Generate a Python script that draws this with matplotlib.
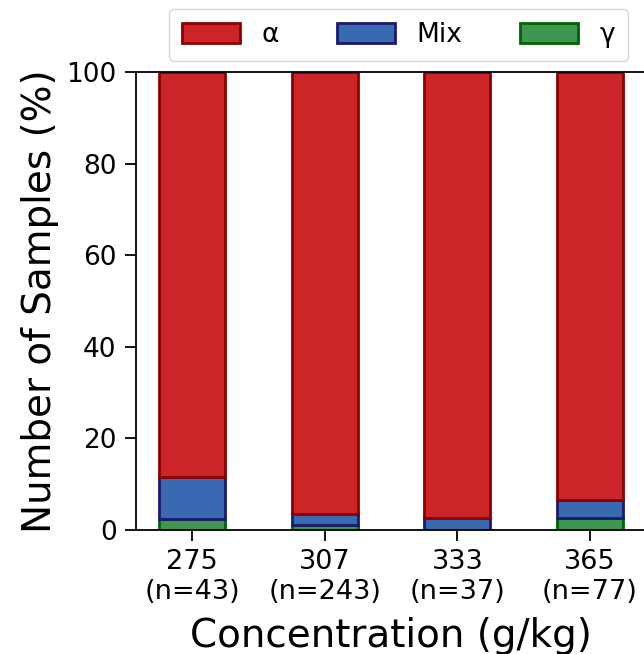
import matplotlib.pyplot as plt
import numpy as np

# concentrations and sample counts
concentrations = ['275', '307', '333', '365']
n_samples = [43, 243, 37, 77]

# percentages
gamma_pct = [2.33, 1.0, 0.0, 2.6]
mix_pct = [9.3, 2.5, 2.7, 3.9]
alpha_pct = [100 - g - m for g, m in zip(gamma_pct, mix_pct)]

tick_labels = [f'{c}\n(n={n})' for c, n in zip(concentrations, n_samples)]

fig = plt.figure(figsize=(6.44, 6.54), dpi=100)
ax = fig.add_axes([0.2112, 0.1896, 0.792, 0.7003])

x = np.arange(len(concentrations))
width = 0.5

ax.bar(x, gamma_pct, width, color='#3E9651', edgecolor='#006400', linewidth=2, label='γ')
ax.bar(x, mix_pct, width, bottom=gamma_pct, color='#396AB1', edgecolor='#1a1a6e',
       linewidth=2, label='Mix')
bottom2 = [g + m for g, m in zip(gamma_pct, mix_pct)]
ax.bar(x, alpha_pct, width, bottom=bottom2, color='#CC2529', edgecolor='#8B0000',
       linewidth=2, label='α')

ax.set_ylim(0, 100)
ax.set_xticks(x)
ax.set_xticklabels(tick_labels, fontsize=19.5)
ax.tick_params(axis='y', labelsize=19)
ax.tick_params(length=8, width=1.3, pad=6)
for s in ax.spines.values():
    s.set_linewidth(1.3)

ax.set_ylabel('Number of Samples (%)', fontsize=28, labelpad=5)
ax.set_xlabel('Concentration (g/kg)', fontsize=28, labelpad=8)

handles, labels = ax.get_legend_handles_labels()
ax.legend(handles[::-1], labels[::-1], ncol=3, fontsize=19, loc='lower center',
          bbox_to_anchor=(0.619, 0.9067), bbox_transform=fig.transFigure,
          handlelength=2.2, handleheight=0.8, columnspacing=2.2, handletextpad=0.8,
          borderpad=0.5, borderaxespad=0)

fig.savefig('out.png', dpi=100)
